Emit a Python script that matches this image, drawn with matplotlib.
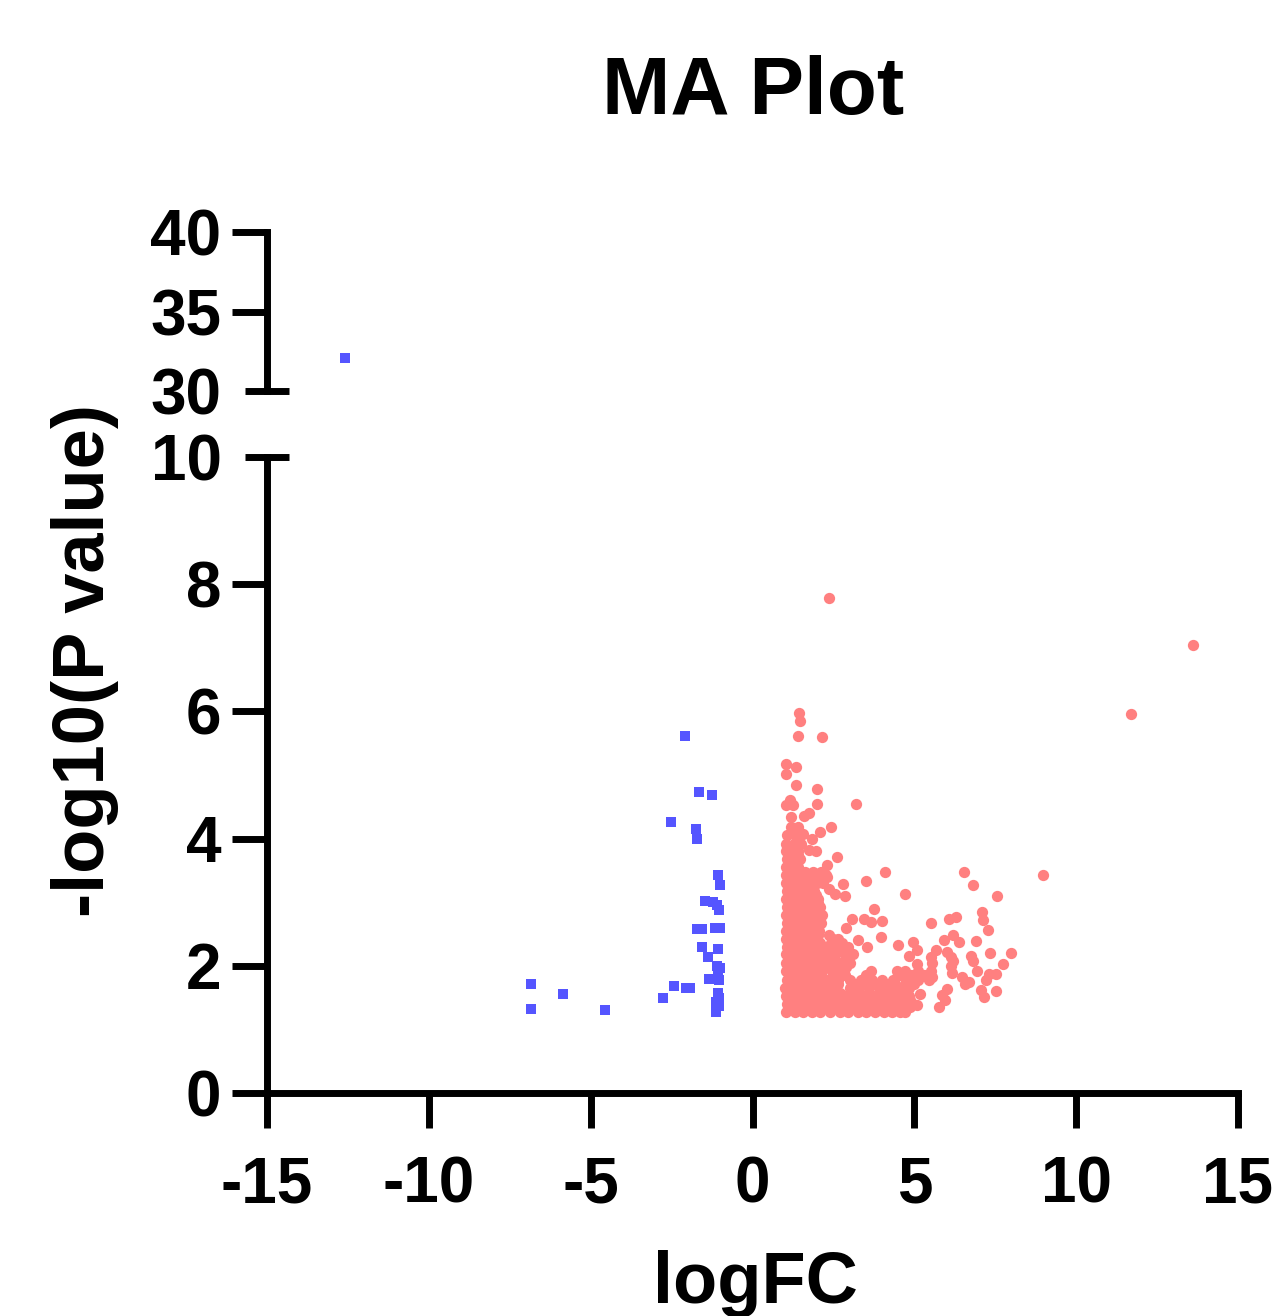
import matplotlib
matplotlib.use("Agg")
import matplotlib.pyplot as plt

plt.rcParams['font.family'] = ['Liberation Sans', 'DejaVu Sans']
plt.rcParams['font.weight'] = 'bold'
plt.rcParams['axes.unicode_minus'] = False

# blue = down regulated, red = up regulated
down_x = [-2.10, -1.66, -1.25, -2.53, -1.74, -1.70, -1.08, -0.99, -1.48, -1.21,
          -1.09, -1.04, -1.71, -1.55, -1.17, -0.99, -1.56, -1.08, -1.39, -1.11,
          -0.99, -1.07, -1.33, -1.02, -2.41, -2.07, -1.94, -2.76, -1.08, -1.05,
          -1.12, -1.04, -1.13, -6.83, -5.86, -6.83, -4.57]
down_y = [5.62, 4.74, 4.69, 4.26, 4.15, 3.99, 3.43, 3.27, 3.02, 3.00,
          2.96, 2.88, 2.58, 2.58, 2.59, 2.59, 2.30, 2.26, 2.14, 2.00,
          1.96, 1.89, 1.80, 1.78, 1.69, 1.65, 1.65, 1.49, 1.58, 1.50,
          1.43, 1.37, 1.28, 1.71, 1.56, 1.32, 1.31]
down_top_x = [-12.6]
down_top_y = [32.1]

# points that can be told apart
up_x = [2.35, 13.6, 11.7, 1.45, 1.48, 1.40, 2.16, 1.05, 1.35, 1.05, 1.35, 1.98, 1.98,
        3.21, 1.15, 1.02, 1.26, 1.74, 1.59, 1.20, 2.41, 2.10, 1.84, 1.57, 2.60, 2.31,
        4.08, 3.52, 2.80, 2.36, 2.56, 2.87, 4.70, 6.53, 6.80, 7.54, 8.98, 3.75, 3.08,
        3.46, 3.65, 3.99, 2.90, 3.97, 3.26, 3.54, 4.49, 4.96, 5.09, 4.83, 5.50, 6.07,
        6.30, 7.09, 7.13, 7.28, 6.92, 7.33, 7.99, 7.75, 6.74, 6.94, 7.30, 7.52, 6.47,
        6.68, 7.05, 7.51, 7.15, 6.00, 5.86, 5.96, 5.76, 6.20, 5.91, 6.38, 5.67, 6.02,
        6.12, 6.20, 6.12, 6.17, 5.50, 5.55, 5.09, 5.55, 5.19, 5.09, 4.88, 4.70, 1.74,
        1.95, 2.10, 2.30, 6.58, 6.82, 7.20]
up_y = [7.78, 7.04, 5.96, 5.98, 5.85, 5.62, 5.60, 5.18, 5.13, 5.01, 4.84, 4.78, 4.55,
        4.55, 4.61, 4.53, 4.53, 4.41, 4.36, 4.34, 4.18, 4.11, 4.00, 4.08, 3.71, 3.58,
        3.48, 3.33, 3.29, 3.20, 3.13, 3.09, 3.13, 3.48, 3.27, 3.10, 3.42, 2.89, 2.74,
        2.73, 2.69, 2.71, 2.59, 2.46, 2.40, 2.30, 2.33, 2.38, 2.25, 2.16, 2.67, 2.74,
        2.76, 2.85, 2.72, 2.57, 2.39, 2.20, 2.20, 2.03, 2.15, 1.92, 1.87, 1.87, 1.83,
        1.74, 1.62, 1.60, 1.51, 1.63, 1.54, 1.46, 1.35, 2.48, 2.40, 2.37, 2.25, 2.22,
        2.14, 2.07, 1.99, 1.88, 2.14, 2.04, 2.03, 1.83, 1.55, 1.38, 1.36, 1.28, 3.82,
        3.80, 3.46, 3.40, 1.72, 2.08, 1.78]

row_y = [1.28, 1.40, 1.52, 1.65, 1.78, 1.92, 2.05, 2.18, 2.30, 2.42, 2.55, 2.68,
         2.80, 2.93, 3.05, 3.17, 3.30, 3.42, 3.55, 3.68, 3.80, 3.92, 4.05, 4.18]
row_x = [
    [1.02, 1.30, 1.55, 1.85, 2.10, 2.40, 2.70, 2.95, 3.25, 3.50, 3.80, 4.05, 4.30, 4.55],
    [1.08, 1.35, 1.65, 1.95, 2.20, 2.50, 2.80, 3.10, 3.35, 3.65, 3.90, 4.20, 4.45, 4.70, 4.95],
    [1.05, 1.30, 1.60, 1.90, 2.25, 2.55, 2.85, 3.15, 3.45, 3.75, 4.05, 4.35, 4.60, 4.85],
    [1.00, 1.30, 1.60, 1.90, 2.20, 2.50, 3.00, 3.30, 3.60, 3.95, 4.25, 4.55, 4.85],
    [1.08, 1.35, 1.65, 1.95, 2.30, 2.65, 3.00, 3.35, 3.70, 4.00, 4.35, 4.75, 5.10, 5.45],
    [1.03, 1.30, 1.60, 1.90, 2.15, 2.45, 2.75, 3.65, 4.45, 4.70, 5.10, 5.50],
    [1.05, 1.35, 1.65, 1.95, 2.35, 2.70, 3.00],
    [1.02, 1.30, 1.60, 1.90, 2.20, 2.55, 2.90, 3.10],
    [1.08, 1.35, 1.65, 1.95, 2.30, 2.60, 2.95],
    [1.05, 1.30, 1.60, 1.90, 2.50, 2.65],
    [1.03, 1.32, 1.62, 1.88, 2.05],
    [1.07, 1.35, 1.65, 1.95, 2.12],
    [1.02, 1.28, 1.58, 1.85, 2.15],
    [1.06, 1.34, 1.64, 1.92, 2.10],
    [1.04, 1.30, 1.60, 1.85, 2.02],
    [1.08, 1.36, 1.62, 1.90],
    [1.02, 1.30, 1.58, 1.80, 2.00, 2.18],
    [1.05, 1.25, 1.50, 1.75, 1.98, 2.28],
    [1.04, 1.28, 1.42],
    [1.06, 1.30, 1.48],
    [1.03, 1.22, 1.42],
    [1.02, 1.28, 1.50],
    [1.08, 1.32, 1.45],
    [1.20, 1.40],
]

# second pass over the same part, these sit between the rows above
fill_y = [1.34, 1.46, 1.58, 1.71, 1.85, 1.98, 2.11, 2.24, 2.36, 2.48, 2.61, 2.74,
          2.86, 2.99, 3.11, 3.23, 3.36, 3.48, 3.61, 3.74, 3.86]
fill_x = [
    [1.18, 1.45, 1.72, 2.00, 2.28, 2.55, 2.85, 3.12, 3.40, 3.68, 3.95, 4.20, 4.48],
    [1.20, 1.50, 1.80, 2.08, 2.38, 2.68, 2.98, 3.25, 3.52, 3.80, 4.10, 4.32, 4.60, 4.88],
    [1.18, 1.45, 1.75, 2.05, 2.40, 2.70, 3.00, 3.30, 3.60, 3.90, 4.20, 4.50, 4.75],
    [1.15, 1.45, 1.75, 2.05, 2.35, 2.65, 3.15, 3.45, 3.78, 4.10, 4.40, 4.70, 5.00],
    [1.20, 1.50, 1.80, 2.10, 2.50, 2.85, 3.50, 4.55, 4.90, 5.30],
    [1.17, 1.45, 1.75, 2.05, 2.30, 2.60, 2.88],
    [1.20, 1.50, 1.80, 2.15, 2.50, 2.85],
    [1.15, 1.45, 1.75, 2.05, 2.38, 2.72],
    [1.22, 1.50, 1.80, 2.10, 2.42, 2.78],
    [1.18, 1.45, 1.75, 2.02, 2.35],
    [1.17, 1.47, 1.75, 2.00],
    [1.20, 1.50, 1.80, 2.05],
    [1.15, 1.42, 1.72, 2.00],
    [1.20, 1.48, 1.78, 2.02],
    [1.17, 1.45, 1.72, 1.95],
    [1.22, 1.50, 1.75],
    [1.15, 1.44, 1.70, 1.90],
    [1.12, 1.38, 1.62, 1.88, 2.12],
    [1.16, 1.36],
    [1.18, 1.40],
    [1.12, 1.34],
]

tick_x = [-15, -10, -5, 0, 5, 10, 15]
tick_low = [0, 2, 4, 6, 8]
tick_top = [35, 40]

W, H = 1277, 1316
BLUE = '#5555FF'
RED = '#FF8080'
LW = 5.0


def ax_from_px(left, right, top, bottom):
    return fig.add_axes([left / W, 1 - bottom / H, (right - left) / W, (bottom - top) / H])


fig = plt.figure(figsize=(W / 100, H / 100), dpi=100)
ax = ax_from_px(267, 1238, 457, 1093)
ax_top = ax_from_px(267, 1238, 232, 391)

ax.set_xlim(-15, 15)
ax.set_ylim(0, 10)
ax_top.set_xlim(-15, 15)
ax_top.set_ylim(30, 40)

for a in (ax, ax_top):
    a.patch.set_alpha(0)
    a.spines['top'].set_visible(False)
    a.spines['right'].set_visible(False)
    a.spines['left'].set_linewidth(LW)
    a.spines['bottom'].set_linewidth(LW)
    a.tick_params(axis='y', which='major', direction='out', length=25, width=LW, pad=8, labelsize=46)
    a.tick_params(axis='y', which='minor', direction='inout', length=31, width=LW, pad=17, labelsize=46)

ax_top.spines['bottom'].set_visible(False)
ax_top.set_xticks([])
ax_top.set_yticks(tick_top)
ax_top.set_yticks([30], labels=['30'], minor=True)

ax.set_xticks(tick_x)
ax.set_yticks(tick_low)
ax.set_yticks([10], labels=['10'], minor=True)
ax.tick_params(axis='x', direction='out', length=25, width=LW, pad=20, labelsize=46)

dense_x = []
dense_y = []
for y, xs in list(zip(row_y, row_x)) + list(zip(fill_y, fill_x)):
    for x in xs:
        dense_x.append(x)
        dense_y.append(y)

ax.scatter(dense_x, dense_y, s=66, c=RED, marker='o', linewidths=0, clip_on=False)
ax.scatter(up_x, up_y, s=66, c=RED, marker='o', linewidths=0, clip_on=False)
ax.scatter(down_x, down_y, s=58, c=BLUE, marker='s', linewidths=0, clip_on=False)
ax_top.scatter(down_top_x, down_top_y, s=58, c=BLUE, marker='s', linewidths=0, clip_on=False)

fig.text(753 / W, 1 - 93 / H, 'MA Plot', fontsize=59, fontweight='bold', ha='center', va='center')
fig.text(755 / W, 1 - 1284 / H, 'logFC', fontsize=52, fontweight='bold', ha='center', va='center')
fig.text(85 / W, 1 - 661 / H, '-log10(P value)', fontsize=52, fontweight='bold',
         rotation=90, ha='center', va='center')

fig.savefig('out.png', dpi=100, facecolor='white')
